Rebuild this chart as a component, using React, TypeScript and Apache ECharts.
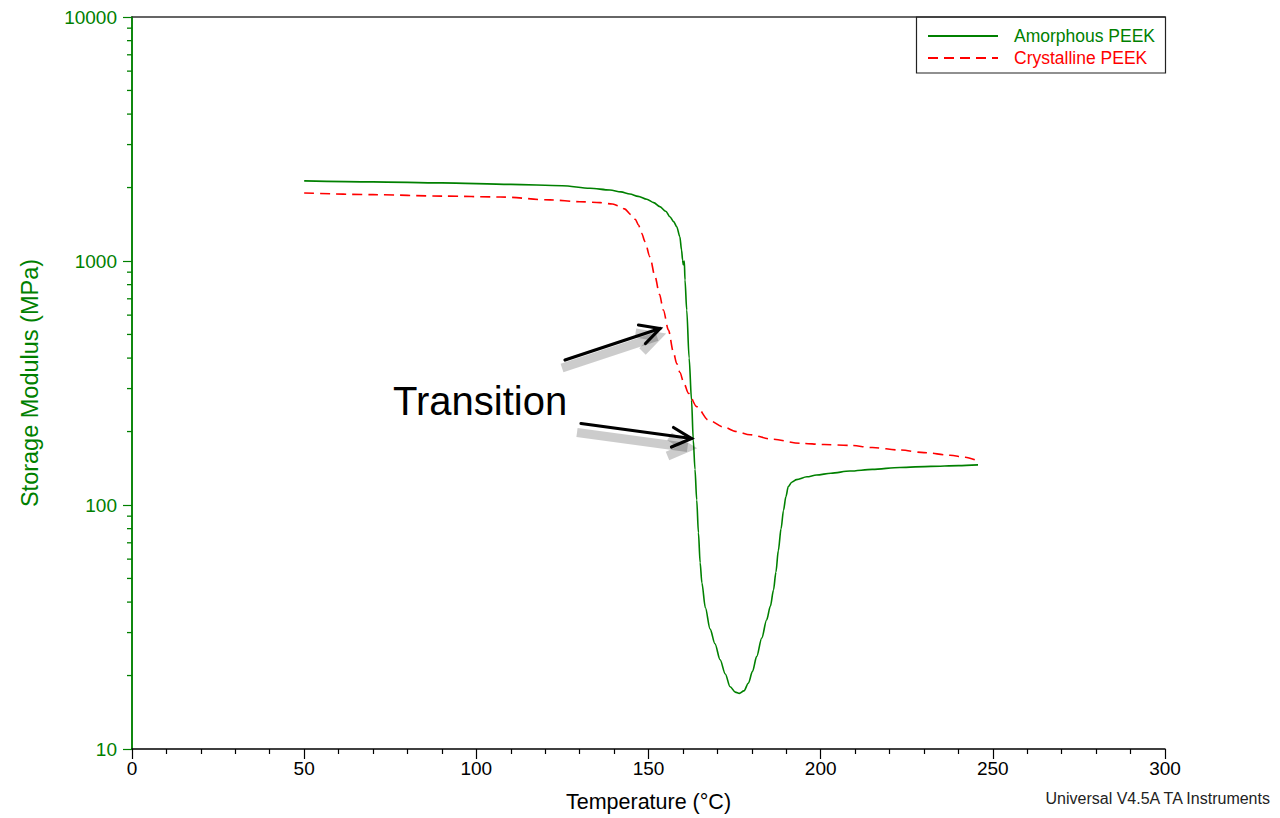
import React, { useEffect, useRef } from "react";
import * as echarts from "echarts";

const GREEN = "#008000";
const RED = "#ff0000";
const FONT = "'Liberation Sans', Arial, sans-serif";

const seriesNames = ["Amorphous PEEK", "Crystalline PEEK"];

// Temperature (°C), Storage modulus (MPa)
const amorphousPEEK: [number, number][] = [
  [50, 2130], [70, 2110], [90, 2090], [110, 2060], [125, 2035], [133, 1986],
  [138.8, 1954], [142, 1920], [144.6, 1883], [147, 1840], [149.5, 1790],
  [151.5, 1735], [153.3, 1670], [155, 1600], [156.2, 1519], [157.3, 1450],
  [158.2, 1382], [159.1, 1258], [159.6, 1109], [159.9, 1009], [160.1, 965],
  [160.4, 1000], [160.6, 836], [161.1, 630], [161.8, 400], [162.5, 269],
  [163.0, 185], [163.5, 140], [164.0, 105], [164.5, 77], [165.0, 58],
  [165.5, 48], [166.5, 38], [167.9, 31], [169.3, 27], [170.8, 23.2],
  [172.3, 20.3], [173.7, 18.0], [175.2, 17.1], [176.4, 16.9], [177.7, 17.3],
  [179.0, 18.6], [180.2, 20.8], [181.4, 23.9], [182.9, 28.5], [184.3, 33.8],
  [185.4, 38.5], [186.3, 44.8], [187.0, 53], [187.7, 65], [188.5, 80],
  [189.2, 95], [189.9, 108], [190.6, 119], [191.6, 124], [193.0, 127],
  [196, 130.5], [198.8, 132.7], [203, 135], [208.5, 137.8], [215, 140],
  [223, 142.5], [232, 144], [240, 145], [245.7, 146],
];

const crystallinePEEK: [number, number][] = [
  [50, 1900], [70, 1870], [90, 1845], [107, 1830], [121.4, 1780], [130, 1750],
  [136, 1735], [139.5, 1712], [141.5, 1680], [143, 1635], [145.1, 1543],
  [146.2, 1480], [147.1, 1404], [148, 1300], [149, 1200], [150.4, 1041],
  [151.9, 862], [153.2, 730], [154.3, 630], [155.8, 521], [157.2, 425],
  [158.2, 380], [159.1, 350], [160.3, 315], [161.6, 287], [164.0, 253],
  [167.4, 223], [171.7, 209], [175.5, 200], [179.5, 194], [186, 186],
  [194, 179], [201, 177], [208.5, 175.5], [215, 172], [223, 168],
  [230, 164], [237.6, 160], [242, 157], [244.8, 153],
];

const yMinorTicks = [
  20, 30, 40, 50, 60, 70, 80, 90,
  200, 300, 400, 500, 600, 700, 800, 900,
  2000, 3000, 4000, 5000, 6000, 7000, 8000, 9000,
];

const xRange = { min: 0, max: 300, interval: 50 };
const yRange = { min: 10, max: 10000 };

const annotationText = "Transition";
const footerText = "Universal V4.5A TA Instruments";

export default function App() {
  const ref = useRef<HTMLDivElement>(null);
  useEffect(() => {
    if (!ref.current) return;
    const chart = echarts.init(ref.current, undefined, { renderer: "svg" });

    const arrowStyle = { stroke: "#000", lineWidth: 3.2, fill: "none", lineCap: "round", lineJoin: "miter" };
    const shadowStyle = { stroke: "rgba(0,0,0,0.2)", lineWidth: 9, fill: "none", lineCap: "butt" };
    const sh = (pts: number[][], dx: number, dy: number) => pts.map(([x, y]) => [x + dx, y + dy]);
    const a1 = [[565, 360], [660, 328.5]];
    const a1h = [[638.5, 325], [660, 328.5], [645.5, 343.5]];
    const a2 = [[581, 423.5], [691.5, 438.5]];
    const a2h = [[673.5, 427.5], [691.5, 438.5], [671.5, 447]];

    chart.setOption({
      animation: false,
      backgroundColor: "#fff",
      grid: { left: 132, right: 115, top: 17, bottom: 69, containLabel: false },
      legend: {
        orient: "vertical",
        left: 927,
        top: 27,
        itemWidth: 70,
        itemHeight: 14,
        itemGap: 4,
        padding: 0,
        itemStyle: { opacity: 0 },
        textStyle: { fontSize: 17.5, fontFamily: FONT, padding: [0, 0, 0, 11] },
        data: [
          { name: seriesNames[0], textStyle: { color: GREEN } },
          { name: seriesNames[1], textStyle: { color: RED } },
        ],
      },
      xAxis: [
        {
          type: "value",
          min: xRange.min,
          max: xRange.max,
          interval: xRange.interval,
          name: "Temperature (°C)",
          nameLocation: "middle",
          nameGap: 42,
          nameTextStyle: { color: "#000", fontSize: 21.5, fontFamily: FONT },
          axisLine: { show: true, lineStyle: { color: "#000", width: 1.5 } },
          axisTick: { show: true, inside: false, length: 10, lineStyle: { color: "#000", width: 1.2 } },
          minorTick: { show: true, splitNumber: 5, length: 5, lineStyle: { color: "#000", width: 1.2 } },
          axisLabel: { color: "#000", fontSize: 19, fontFamily: FONT, margin: 10 },
          splitLine: { show: false },
        },
        {
          type: "value",
          position: "top",
          min: xRange.min,
          max: xRange.max,
          axisLine: { show: true, onZero: false, lineStyle: { color: "#333", width: 1.5 } },
          axisTick: { show: false },
          axisLabel: { show: false },
          splitLine: { show: false },
        },
      ],
      yAxis: [
        {
          type: "log",
          logBase: 10,
          min: yRange.min,
          max: yRange.max,
          name: "Storage Modulus (MPa)",
          nameLocation: "middle",
          nameGap: 90,
          nameTextStyle: { color: GREEN, fontSize: 23.5, fontFamily: FONT },
          axisLine: { show: true, lineStyle: { color: GREEN, width: 1.5 } },
          axisTick: { show: true, inside: false, length: 9, lineStyle: { color: GREEN, width: 1.2 } },
          axisLabel: {
            color: GREEN,
            fontSize: 19,
            fontFamily: FONT,
            margin: 15,
            formatter: (v: number) => String(Math.round(v)),
          },
          splitLine: { show: false },
        },
        {
          type: "log",
          logBase: 10,
          min: yRange.min,
          max: yRange.max,
          position: "right",
          axisLine: { show: true, lineStyle: { color: GREEN, width: 1.5 } },
          axisTick: { show: false },
          axisLabel: { show: false },
          splitLine: { show: false },
        },
      ],
      series: [
        {
          name: seriesNames[0],
          type: "line",
          data: amorphousPEEK,
          xAxisIndex: 0,
          yAxisIndex: 0,
          symbol: "none",
          showSymbol: false,
          smooth: 0.3,
          smoothMonotone: "x",
          lineStyle: { color: GREEN, width: 1.6 },
          itemStyle: { color: GREEN },
        },
        {
          name: seriesNames[1],
          type: "line",
          data: crystallinePEEK,
          xAxisIndex: 0,
          yAxisIndex: 0,
          symbol: "none",
          showSymbol: false,
          smooth: 0.3,
          smoothMonotone: "x",
          lineStyle: { color: RED, width: 1.6, type: [10, 6] },
          itemStyle: { color: RED },
        },
        {
          // minor ticks of the log axis, placed through the axis scale
          name: "minorTicks",
          type: "custom",
          xAxisIndex: 0,
          yAxisIndex: 0,
          clip: false,
          silent: true,
          z: 5,
          data: yMinorTicks.map((v) => [xRange.min, v]),
          renderItem: (_params: any, api: any) => {
            const p = api.coord([api.value(0), api.value(1)]);
            return {
              type: "line",
              shape: { x1: p[0] - 5, y1: p[1], x2: p[0], y2: p[1] },
              style: { stroke: GREEN, lineWidth: 1.3 },
            };
          },
        },
      ],
      graphic: [
        {
          type: "rect",
          shape: { x: 916.5, y: 17, width: 249, height: 56 },
          style: { fill: "none", stroke: "#222", lineWidth: 1.2 },
          z: 100,
        },
        {
          type: "text",
          x: 393,
          y: 401,
          style: {
            text: annotationText,
            fontSize: 40,
            fontFamily: FONT,
            fill: "#000",
            verticalAlign: "middle",
            align: "left",
          },
          z: 100,
        },
        { type: "polyline", shape: { points: sh(a1, -3, 8) }, style: shadowStyle, z: 99 },
        { type: "polyline", shape: { points: sh(a1h, -3, 8) }, style: shadowStyle, z: 99 },
        { type: "polyline", shape: { points: sh(a2, -4, 9) }, style: shadowStyle, z: 99 },
        { type: "polyline", shape: { points: sh(a2h, -4, 9) }, style: shadowStyle, z: 99 },
        { type: "polyline", shape: { points: a1 }, style: arrowStyle, z: 100 },
        { type: "polyline", shape: { points: a1h }, style: arrowStyle, z: 100 },
        { type: "polyline", shape: { points: a2 }, style: arrowStyle, z: 100 },
        { type: "polyline", shape: { points: a2h }, style: arrowStyle, z: 100 },
        {
          type: "text",
          right: 8,
          top: 790,
          style: {
            text: footerText,
            fontSize: 16,
            fontFamily: FONT,
            fill: "#222",
          },
          z: 100,
        },
      ],
    });
    return () => chart.dispose();
  }, []);
  return (
    <div
      ref={ref}
      style={{ position: "fixed", left: 0, top: 0, width: 1280, height: 818, background: "#fff" }}
    />
  );
}
